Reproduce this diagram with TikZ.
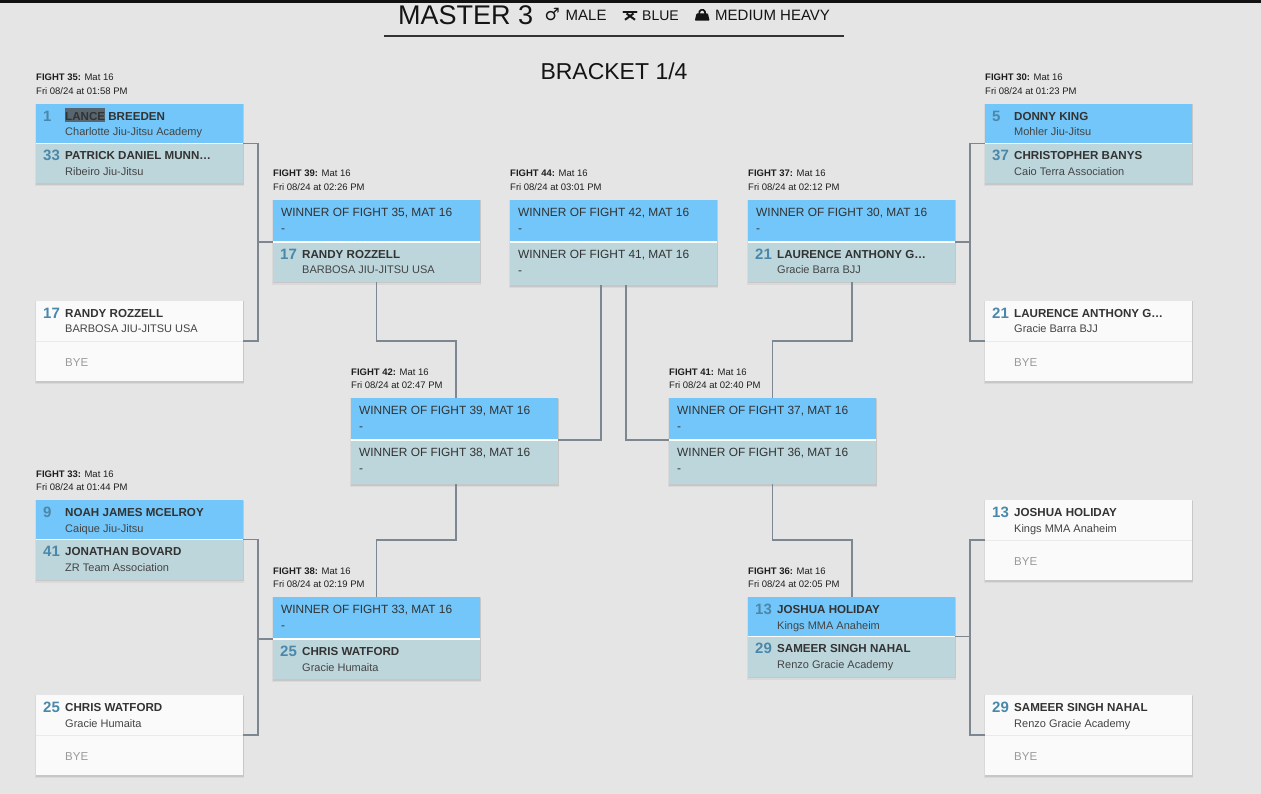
\documentclass[tikz,border=0pt]{standalone}
\usepackage{fontspec}
\setmainfont{Liberation Sans}
\newfontfamily\symf{DejaVu Sans}
\definecolor{bgc}{HTML}{E5E5E5}
\definecolor{topc}{HTML}{73C6F9}
\definecolor{botc}{HTML}{BDD6DC}
\definecolor{whc}{HTML}{FAFAFA}
\definecolor{divc}{HTML}{EAEAEA}
\definecolor{seedc}{HTML}{4A88AB}
\definecolor{namec}{HTML}{333333}
\definecolor{clubc}{HTML}{444444}
\definecolor{byec}{HTML}{9A9A9A}
\definecolor{connc}{HTML}{7C8791}
\definecolor{selc}{HTML}{56656E}
\tikzset{
  halfbox/.style={rectangle,inner sep=0pt,outer sep=0pt,minimum width=207pt},
  seedtxt/.style={anchor=base west,inner sep=0pt,font=\fontsize{15}{15}\selectfont\bfseries,text=seedc},
  nametxt/.style={anchor=base west,inner sep=0pt,font=\fontsize{11.6}{12}\selectfont\bfseries,text=namec},
  clubtxt/.style={anchor=base west,inner sep=0pt,font=\fontsize{11}{12}\selectfont,text=clubc},
  wintxt/.style={anchor=base west,inner sep=0pt,font=\fontsize{11.9}{12}\selectfont,text=namec},
  byetxt/.style={anchor=base west,inner sep=0pt,font=\fontsize{11.5}{12}\selectfont,text=byec},
  lblf/.style={anchor=base west,inner sep=0pt,font=\fontsize{9.5}{10}\selectfont,text=black!88},
  hdr/.style={anchor=base west,inner sep=0pt,font=\fontsize{15}{15}\selectfont,text=black!92},
  conn/.style={draw=connc,line width=1.6pt}
}
\newcommand\bshadow[4]{%
  \fill[black,opacity=.05] (#1-1,#2) rectangle (#1+208,#2+#3+3);
  \fill[black,opacity=.08] (#1-.5,#2+.5) rectangle (#1+207.5,#2+#3+1.5);}
\newcommand\cbox[5]{%
  \bshadow{#2}{#3}{#4+#5}{}
  \node[halfbox,fill=topc,minimum height=#4pt,anchor=north west] (#1t) at (#2,#3) {};
  \node[halfbox,fill=botc,minimum height=#5pt,anchor=north west] (#1b) at (#2,#3+#4) {};
  \draw[white,line width=1.3pt] (#1b.north west) -- (#1b.north east);}
\newcommand\wbox[3]{%
  \bshadow{#2}{#3}{80}{}
  \node[halfbox,fill=whc,minimum height=40pt,anchor=north west] (#1t) at (#2,#3) {};
  \node[halfbox,fill=whc,minimum height=40pt,anchor=north west] (#1b) at (#2,#3+40) {};
  \draw[divc,line width=1pt] (#1b.north west) -- (#1b.north east);}
\newcommand\player[4]{%
  \node[seedtxt] (#1s) at ([xshift=7pt,yshift=-17.3pt]#1.north west) {#2};
  \node[nametxt] (#1n) at ([xshift=29pt,yshift=-16.3pt]#1.north west) {#3};
  \node[clubtxt] (#1c) at ([xshift=29pt,yshift=-32pt]#1.north west) {#4};}
\newcommand\winner[2]{%
  \node[wintxt] (#1w) at ([xshift=8pt,yshift=-16.3pt]#1.north west) {#2};
  \node[wintxt] (#1d) at ([xshift=8pt,yshift=-32.8pt]#1.north west) {-};}
\newcommand\byeline[1]{\node[byetxt] (#1y) at ([xshift=29pt,yshift=-25pt]#1.north west) {BYE};}
\newcommand\flabel[5]{%
  \node[lblf] (#1) at (#2,#3-23) {\textbf{FIGHT #4:} Mat 16};
  \node[lblf] (#1d) at (#2,#3-9.5) {Fri 08/24 at #5};}
\begin{document}
\begin{tikzpicture}[x=1pt,y=-1pt]
\fill[bgc] (0,0) rectangle (1261,794);
\useasboundingbox (0,0) rectangle (1261,794);
% header
\fill[black!93] (0,0) rectangle (1261,3.5);
\node[anchor=base west,inner sep=0pt,font=\fontsize{27}{27}\selectfont,text=black!92] (title) at (398,24.5) {MASTER 3};
\node[anchor=base west,inner sep=0pt,font=\symf\fontsize{17}{17}\selectfont,text=black!92] (maleic) at (544.5,21) {♂};
\node[hdr] (male) at (565.5,20.7) {MALE};
\draw[black!92,line width=2.4pt,line cap=round] (623.5,12.3) -- (636.5,12.3);
\draw[black!92,line width=2pt] (625,19.8) -- (633.5,13.5);
\draw[black!92,line width=2pt] (635,19.8) -- (626.5,13.5);
\node[hdr,font=\fontsize{14}{14}\selectfont] (blue) at (642,20.7) {BLUE};
\fill[black!92,rounded corners=0.8pt] (694.8,20.7) -- (709.6,20.7) -- (707.9,13.4) -- (696.5,13.4) -- cycle;
\draw[black!92,line width=1.7pt,rounded corners=1.5pt] (699.2,14) -- (699.7,9.9) -- (704.7,9.9) -- (705.2,14);
\node[hdr] (weight) at (715,20.7) {MEDIUM HEAVY};
\draw[namec,line width=2.8pt] (384,36) -- (844,36);
\node[anchor=base,inner sep=0pt,font=\fontsize{23}{23}\selectfont,text=black!92] (bracket) at (614,80) {BRACKET 1/4};

% ---- column A
\flabel{l35}{36}{104}{35}{01:58 PM}
\cbox{f35}{36}{104}{39.5}{40}
\fill[selc] (65,108.5) rectangle (105,122.5);
\player{f35t}{1}{LANCE BREEDEN}{Charlotte Jiu-Jitsu Academy}
\player{f35b}{33}{PATRICK DANIEL MUNN…}{Ribeiro Jiu-Jitsu}
\wbox{w17}{36}{301}
\player{w17t}{17}{RANDY ROZZELL}{BARBOSA JIU-JITSU USA}
\byeline{w17b}
\flabel{l33}{36}{500}{33}{01:44 PM}
\cbox{f33}{36}{500}{39.5}{40}
\player{f33t}{9}{NOAH JAMES MCELROY}{Caique Jiu-Jitsu}
\player{f33b}{41}{JONATHAN BOVARD}{ZR Team Association}
\wbox{w25}{36}{695}
\player{w25t}{25}{CHRIS WATFORD}{Gracie Humaita}
\byeline{w25b}

% ---- column B
\flabel{l39}{273}{200}{39}{02:26 PM}
\cbox{f39}{273}{200}{42}{40}
\winner{f39t}{WINNER OF FIGHT 35, MAT 16}
\player{f39b}{17}{RANDY ROZZELL}{BARBOSA JIU-JITSU USA}
\flabel{l38}{273}{597}{38}{02:19 PM}
\cbox{f38}{273}{597}{42}{40}
\winner{f38t}{WINNER OF FIGHT 33, MAT 16}
\player{f38b}{25}{CHRIS WATFORD}{Gracie Humaita}

% ---- column C
\flabel{l42}{351}{398}{42}{02:47 PM}
\cbox{f42}{351}{398}{42}{44}
\winner{f42t}{WINNER OF FIGHT 39, MAT 16}
\winner{f42b}{WINNER OF FIGHT 38, MAT 16}

% ---- column D
\flabel{l44}{510}{200}{44}{03:01 PM}
\cbox{f44}{510}{200}{42}{43.5}
\winner{f44t}{WINNER OF FIGHT 42, MAT 16}
\winner{f44b}{WINNER OF FIGHT 41, MAT 16}

% ---- column E
\flabel{l41}{669}{398}{41}{02:40 PM}
\cbox{f41}{669}{398}{42}{44}
\winner{f41t}{WINNER OF FIGHT 37, MAT 16}
\winner{f41b}{WINNER OF FIGHT 36, MAT 16}

% ---- column F
\flabel{l37}{748}{200}{37}{02:12 PM}
\cbox{f37}{748}{200}{42}{40}
\winner{f37t}{WINNER OF FIGHT 30, MAT 16}
\player{f37b}{21}{LAURENCE ANTHONY G…}{Gracie Barra BJJ}
\flabel{l36}{748}{597}{36}{02:05 PM}
\cbox{f36}{748}{597}{39.5}{40}
\player{f36t}{13}{JOSHUA HOLIDAY}{Kings MMA Anaheim}
\player{f36b}{29}{SAMEER SINGH NAHAL}{Renzo Gracie Academy}

% ---- column G
\flabel{l30}{985}{104}{30}{01:23 PM}
\cbox{f30}{985}{104}{39.5}{40}
\player{f30t}{5}{DONNY KING}{Mohler Jiu-Jitsu}
\player{f30b}{37}{CHRISTOPHER BANYS}{Caio Terra Association}
\wbox{w21}{985}{301}
\player{w21t}{21}{LAURENCE ANTHONY G…}{Gracie Barra BJJ}
\byeline{w21b}
\wbox{w13}{985}{500}
\player{w13t}{13}{JOSHUA HOLIDAY}{Kings MMA Anaheim}
\byeline{w13b}
\wbox{w29}{985}{695}
\player{w29t}{29}{SAMEER SINGH NAHAL}{Renzo Gracie Academy}
\byeline{w29b}

% ---- connectors
\draw[conn] (f35b.north east) -- ++(15,0) coordinate (j35) |- (w17b.north east);
\draw[conn] (j35 |- f39b.north west) -- (f39b.north west);
\draw[conn] (f33b.north east) -- ++(15,0) coordinate (j33) |- (w25b.north east);
\draw[conn] (j33 |- f38b.north west) -- (f38b.north west);
\draw[conn] ([xshift=103.5pt]f39b.south west) -- ++(0,59) -| ([xshift=105pt]f42t.north west);
\draw[conn] ([xshift=103.5pt]f38t.north west) -- ++(0,-57) -| ([xshift=105pt]f42b.south west);
\draw[conn] (f42t.south east) -| ([xshift=91pt]f44b.south west);
\draw[conn] (f41t.south west) -| ([xshift=116pt]f44b.south west);
\draw[conn] ([xshift=104pt]f37b.south west) -- ++(0,59) -| ([xshift=103.5pt]f41t.north west);
\draw[conn] ([xshift=104pt]f36t.north west) -- ++(0,-57) -| ([xshift=103.5pt]f41b.south west);
\draw[conn] (f30b.north west) -- ++(-15,0) coordinate (j30) |- (w21b.north west);
\draw[conn] (j30 |- f37b.north east) -- (f37b.north east);
\draw[conn] (w13b.north west) -- ++(-15,0) coordinate (j13) |- (w29b.north west);
\draw[conn] (j13 |- f36b.north east) -- (f36b.north east);
\end{tikzpicture}
\end{document}
